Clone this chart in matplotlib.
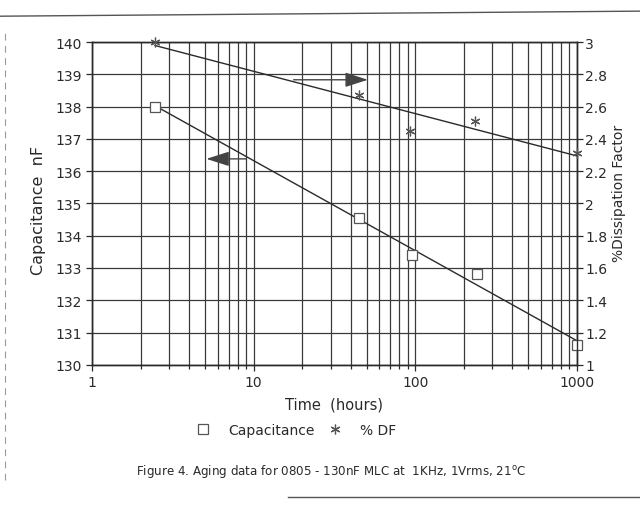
import numpy as np
import matplotlib
matplotlib.use("Agg")
import matplotlib.pyplot as plt
from matplotlib.lines import Line2D

plt.rcParams["font.family"] = ["DejaVu Sans"]

# datos
hours = [2.45, 45, 96, 240, 1000]
capacitance_nf = [138.0, 134.55, 133.4, 132.8, 130.6]
df_hours = [2.45, 45, 93, 235, 1000]
df_pct = [3.0, 2.67, 2.45, 2.51, 2.315]

cap_ticks = list(range(130, 141))
df_ticks = [1, 1.2, 1.4, 1.6, 1.8, 2, 2.2, 2.4, 2.6, 2.8, 3]
df_tick_labels = ["1", "1.2", "1.4", "1.6", "1.8", "2", "2.2", "2.4", "2.6", "2.8", "3"]
x_ticks = [1, 10, 100, 1000]
x_tick_labels = ["1", "10", "100", "1000"]

# flechas dibujadas a mano (x, y en unidades de capacitancia)
cap_arrow_head = (4.9, 136.38)
cap_arrow_tail = (9.3, 136.38)
df_arrow_head = (53, 138.83)
df_arrow_tail = (17, 138.83)

ink = "#2a2a2a"
grid_c = "#3a3a3a"

fig = plt.figure(figsize=(6.4, 5.06), dpi=100)
ax = fig.add_axes([0.144, 0.277, 0.757, 0.638])
ax2 = ax.twinx()

ax.set_xscale("log")
ax.set_xlim(1, 1000)
ax.set_ylim(130, 140)
ax2.set_ylim(1, 3)

# grilla
ax.set_xticks(x_ticks)
ax.set_xticklabels(x_tick_labels)
ax.set_xticks([m * 10 ** d for d in range(3) for m in range(2, 10)], minor=True)
ax.set_yticks(cap_ticks)
ax.grid(True, which="both", axis="x", color=grid_c, linewidth=0.9)
ax.grid(True, which="major", axis="y", color=grid_c, linewidth=0.9)
ax2.set_yticks(df_ticks)
ax2.set_yticklabels(df_tick_labels)

for a in (ax, ax2):
    for s in a.spines.values():
        s.set_color(ink)
        s.set_linewidth(1.0)
    a.tick_params(which="both", direction="out", color=ink, labelcolor=ink,
                  labelsize=10, length=4, width=0.9)
ax.tick_params(which="minor", length=3)
ax.tick_params(axis="x", pad=3)
ax2.tick_params(axis="y", pad=2)

# lineas de tendencia (regresion logaritmica)
lx = np.log10(hours)
pc = np.polyfit(lx, capacitance_nf, 1)
xs = np.array([hours[0] * 1.08, hours[-1]])
ax.plot(xs, np.polyval(pc, np.log10(xs)), color=ink, linewidth=1.0, zorder=3)

ldf = np.log10(df_hours)
pd_ = np.polyfit(ldf, df_pct, 1)
xs2 = np.array([df_hours[0], df_hours[-1]])
ax2.plot(xs2, np.polyval(pd_, np.log10(xs2)), color=ink, linewidth=1.0, zorder=3)

# puntos
cap_line, = ax.plot(hours, capacitance_nf, linestyle="none", marker="s", markersize=7,
                    markerfacecolor="white", markeredgecolor="#555555",
                    markeredgewidth=0.9, zorder=4, clip_on=False)
df_line, = ax2.plot(df_hours, df_pct, linestyle="none", marker=(6, 2, 0), markersize=7,
                    color="#555555", markeredgewidth=0.9, zorder=4, clip_on=False)

# flechas
ax.annotate("", xy=cap_arrow_head, xytext=cap_arrow_tail,
            arrowprops=dict(arrowstyle="-|>,head_length=1.4,head_width=0.45",
                            color="#444444", lw=1.0))
ax.annotate("", xy=df_arrow_head, xytext=df_arrow_tail,
            arrowprops=dict(arrowstyle="-|>,head_length=1.4,head_width=0.45",
                            color="#444444", lw=1.0))

ax.set_ylabel("Capacitance  nF", fontsize=11.5, color=ink, labelpad=11)
ax.yaxis.set_label_coords(-0.095, 0.48)
ax2.set_ylabel("%Dissipation Factor", fontsize=10, color=ink)
ax2.yaxis.set_label_coords(1.072, 0.535)
ax.set_xlabel("Time  (hours)", fontsize=10.5, color=ink, labelpad=6)

# leyenda
fig.legend([cap_line, df_line], ["Capacitance", "% DF"], loc="center",
           bbox_to_anchor=(0.462, 0.148), ncol=2, frameon=False, fontsize=10,
           handlelength=1.2, columnspacing=0.9, handletextpad=1.2,
           labelcolor=ink)

fig.text(0.518, 0.069, "Figure 4. Aging data for 0805 - 130nF MLC at  1KHz, 1Vrms, 21$^{\\mathrm{o}}$C",
         ha="center", va="center", fontsize=8.6, color=ink)

# bordes de la hoja escaneada
fig.add_artist(Line2D([0.0, 1.0], [0.966, 0.976], transform=fig.transFigure,
                      color="#555555", linewidth=1.0))
fig.add_artist(Line2D([0.45, 1.0], [0.016, 0.016], transform=fig.transFigure,
                      color="#555555", linewidth=1.0))
fig.add_artist(Line2D([0.008, 0.008], [0.05, 0.94], transform=fig.transFigure,
                      color="#999999", linewidth=0.8, linestyle=(0, (6, 5))))

fig.savefig("out.png", dpi=100)
